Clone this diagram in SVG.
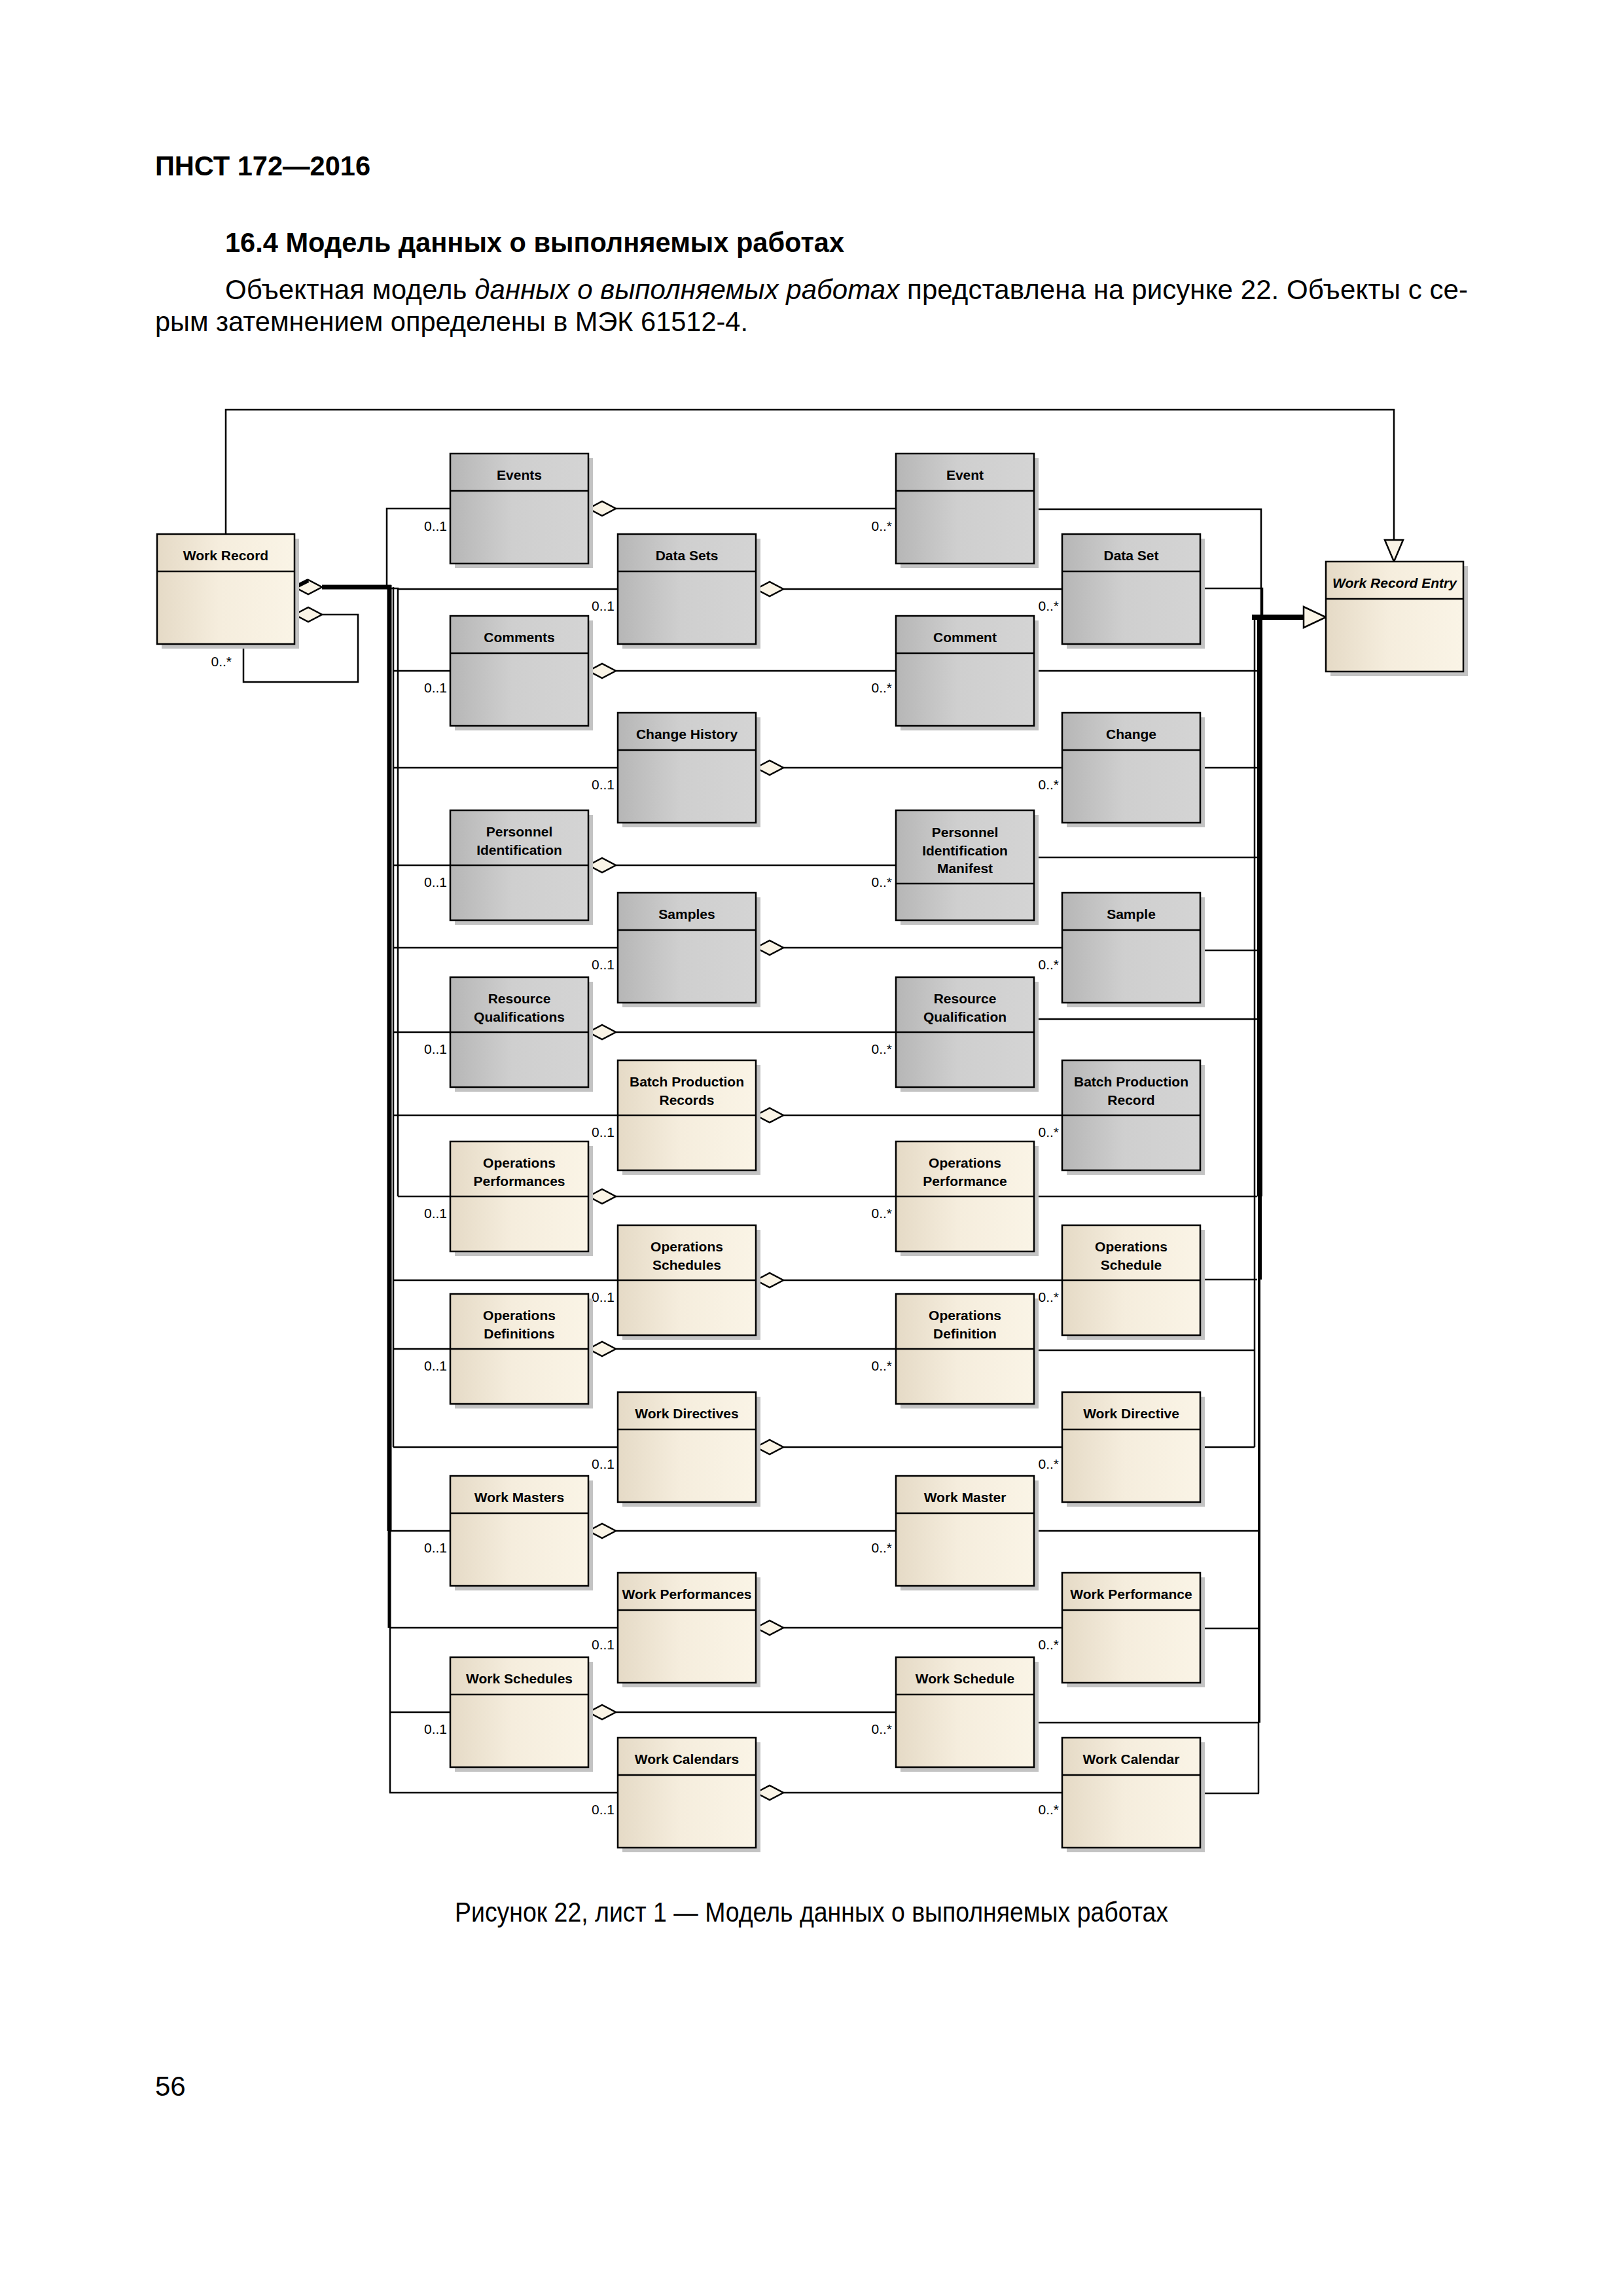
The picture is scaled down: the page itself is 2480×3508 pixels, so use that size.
<svg xmlns="http://www.w3.org/2000/svg" xmlns:xlink="http://www.w3.org/1999/xlink" width="2480" height="3508" viewBox="0 0 2480 3508">
<defs>
<linearGradient id="gGray" x1="0" y1="0" x2="1" y2="0">
<stop offset="0" stop-color="#b6b6b6"/><stop offset="0.45" stop-color="#cfcfcf"/><stop offset="1" stop-color="#d4d4d4"/>
</linearGradient>
<linearGradient id="gBeige" x1="0" y1="0" x2="1" y2="0">
<stop offset="0" stop-color="#e5dac6"/><stop offset="0.45" stop-color="#f5eddd"/><stop offset="1" stop-color="#faf4e6"/>
</linearGradient>
<path id="dia" d="M0,0 L21,-11 L42,0 L21,11 Z"/>
<style>
.sh{fill:#c3c3c3}
.g{fill:url(#gGray);stroke:#000;stroke-width:2.5}
.b{fill:url(#gBeige);stroke:#000;stroke-width:2.5}
.sep{stroke:#000;stroke-width:2.5}
.t{font-family:"Liberation Sans",Arial,sans-serif;font-size:21px;font-weight:bold;text-anchor:middle;fill:#000}
.ti{font-style:italic}
.m{font-family:"Liberation Sans",Arial,sans-serif;font-size:21px;text-anchor:end;fill:#000}
.c{fill:none;stroke:#000;stroke-width:2.5}
.dia{fill:#faf4e6;stroke:#000;stroke-width:2.5}
.body{font-family:"Liberation Sans",Arial,sans-serif;font-size:42px;fill:#000}
</style>
</defs>
<rect width="2480" height="3508" fill="#fff"/>

<g id="page-text">
<text class="body" x="237" y="268" font-weight="bold" textLength="329" lengthAdjust="spacingAndGlyphs">ПНСТ 172—2016</text>
<text class="body" x="344" y="385" font-weight="bold" textLength="946" lengthAdjust="spacingAndGlyphs">16.4 Модель данных о выполняемых работах</text>
<text class="body" x="344" y="457" textLength="1899" lengthAdjust="spacing">Объектная модель <tspan font-style="italic">данных о выполняемых работах</tspan> представлена на рисунке 22. Объекты с се-</text>
<text class="body" x="237" y="506" textLength="906" lengthAdjust="spacingAndGlyphs">рым затемнением определены в МЭК 61512-4.</text>
<text class="body" x="695" y="2936" font-size="38" textLength="1090" lengthAdjust="spacingAndGlyphs">Рисунок 22, лист 1 — Модель данных о выполняемых работах</text>
<text class="body" x="237" y="3202">56</text>
</g>

<g id="connectors">
<path class="c" d="M345,816 V626 H2130 V825"/>
<polygon class="dia" points="2116,825 2144,825 2130,858"/>
<use href="#dia" class="dia" x="450" y="939"/>
<path class="c" d="M492,939 H547 V1042 H372 V984"/>
<text class="m" x="354" y="1018">0..*</text>
<path class="c" d="M688,777 H591 V897"/>
<path fill="none" stroke="#000" stroke-width="7" d="M492,897 H598"/>
<path fill="none" stroke="#000" stroke-width="7" d="M595,894 V2339"/>
<path fill="none" stroke="#000" stroke-width="5" d="M595,2339 V2487"/>
<path class="c" d="M596,2487 V2739"/>
<path class="c" d="M601,897 V2211"/>
<path class="c" d="M598,899 H608 V1828"/>
<use href="#dia" class="dia" x="450" y="897"/>
<path fill="none" stroke="#000" stroke-width="6" d="M453,896 L471,887"/>
<path class="c" d="M1580,778 H1927 V940"/>
<path class="c" d="M1834,899 H1929 V940"/>
<path fill="none" stroke="#000" stroke-width="8" d="M1925,939 V1828"/>
<path fill="none" stroke="#000" stroke-width="6" d="M1925,1828 V1955"/>
<path fill="none" stroke="#000" stroke-width="4" d="M1924,1955 V2632"/>
<path class="c" d="M1923,2632 V2740"/>
<path class="c" d="M1917,940 V2211"/>
<path fill="none" stroke="#000" stroke-width="8" d="M1913,943 H1992"/>
<polygon class="dia" points="1992,927 1992,959 2026,943"/>

<path class="c" d="M944,900 H608"/>
<path class="c" d="M688,1025 H601"/>
<path class="c" d="M944,1173 H601"/>
<path class="c" d="M688,1322 H601"/>
<path class="c" d="M944,1448 H601"/>
<path class="c" d="M688,1577 H601"/>
<path class="c" d="M944,1704 H601"/>
<path class="c" d="M688,1828 H608"/>
<path class="c" d="M944,1956 H601"/>
<path class="c" d="M688,2061 H601"/>
<path class="c" d="M944,2211 H601"/>
<path class="c" d="M688,2339 H595"/>
<path class="c" d="M944,2487 H596"/>
<path class="c" d="M688,2616 H596"/>
<path class="c" d="M944,2739 H595"/>
<path class="c" d="M1580,1025 H1922"/>
<path class="c" d="M1834,1173 H1921"/>
<path class="c" d="M1580,1310 H1921"/>
<path class="c" d="M1834,1452 H1921"/>
<path class="c" d="M1580,1557 H1921"/>
<path class="c" d="M1580,1828 H1921"/>
<path class="c" d="M1834,1955 H1921"/>
<path class="c" d="M1580,2063 H1917"/>
<path class="c" d="M1834,2211 H1917"/>
<path class="c" d="M1580,2339 H1924"/>
<path class="c" d="M1834,2488 H1924"/>
<path class="c" d="M1580,2632 H1924"/>
<path class="c" d="M1834,2740 H1924"/>
<path class="c" d="M941,777 H1369"/><use href="#dia" class="dia" x="899" y="777"/>
<path class="c" d="M1197,900 H1623"/><use href="#dia" class="dia" x="1155" y="900"/>
<path class="c" d="M941,1025 H1369"/><use href="#dia" class="dia" x="899" y="1025"/>
<path class="c" d="M1197,1173 H1623"/><use href="#dia" class="dia" x="1155" y="1173"/>
<path class="c" d="M941,1322 H1369"/><use href="#dia" class="dia" x="899" y="1322"/>
<path class="c" d="M1197,1448 H1623"/><use href="#dia" class="dia" x="1155" y="1448"/>
<path class="c" d="M941,1577 H1369"/><use href="#dia" class="dia" x="899" y="1577"/>
<path class="c" d="M1197,1704 H1623"/><use href="#dia" class="dia" x="1155" y="1704"/>
<path class="c" d="M941,1828 H1369"/><use href="#dia" class="dia" x="899" y="1828"/>
<path class="c" d="M1197,1956 H1623"/><use href="#dia" class="dia" x="1155" y="1956"/>
<path class="c" d="M941,2061 H1369"/><use href="#dia" class="dia" x="899" y="2061"/>
<path class="c" d="M1197,2211 H1623"/><use href="#dia" class="dia" x="1155" y="2211"/>
<path class="c" d="M941,2339 H1369"/><use href="#dia" class="dia" x="899" y="2339"/>
<path class="c" d="M1197,2487 H1623"/><use href="#dia" class="dia" x="1155" y="2487"/>
<path class="c" d="M941,2616 H1369"/><use href="#dia" class="dia" x="899" y="2616"/>
<path class="c" d="M1197,2739 H1623"/><use href="#dia" class="dia" x="1155" y="2739"/>
<text class="m" x="683" y="811">0..1</text><text class="m" x="1363" y="811">0..*</text>
<text class="m" x="939" y="933">0..1</text><text class="m" x="1618" y="933">0..*</text>
<text class="m" x="683" y="1058">0..1</text><text class="m" x="1363" y="1058">0..*</text>
<text class="m" x="939" y="1206">0..1</text><text class="m" x="1618" y="1206">0..*</text>
<text class="m" x="683" y="1355">0..1</text><text class="m" x="1363" y="1355">0..*</text>
<text class="m" x="939" y="1481">0..1</text><text class="m" x="1618" y="1481">0..*</text>
<text class="m" x="683" y="1610">0..1</text><text class="m" x="1363" y="1610">0..*</text>
<text class="m" x="939" y="1737">0..1</text><text class="m" x="1618" y="1737">0..*</text>
<text class="m" x="683" y="1861">0..1</text><text class="m" x="1363" y="1861">0..*</text>
<text class="m" x="939" y="1989">0..1</text><text class="m" x="1618" y="1989">0..*</text>
<text class="m" x="683" y="2094">0..1</text><text class="m" x="1363" y="2094">0..*</text>
<text class="m" x="939" y="2244">0..1</text><text class="m" x="1618" y="2244">0..*</text>
<text class="m" x="683" y="2372">0..1</text><text class="m" x="1363" y="2372">0..*</text>
<text class="m" x="939" y="2520">0..1</text><text class="m" x="1618" y="2520">0..*</text>
<text class="m" x="683" y="2649">0..1</text><text class="m" x="1363" y="2649">0..*</text>
<text class="m" x="939" y="2772">0..1</text><text class="m" x="1618" y="2772">0..*</text>
</g>

<g id="work-record"><rect class="sh" x="247" y="823" width="210" height="168"/><rect class="b" x="240" y="816" width="210" height="168"/><line class="sep" x1="240" y1="873" x2="450" y2="873"/><text class="t" x="345" y="856">Work Record</text></g>
<g id="work-record-entry"><rect class="sh" x="2033" y="865" width="210" height="168"/><rect class="b" x="2026" y="858" width="210" height="168"/><line class="sep" x1="2026" y1="915" x2="2236" y2="915"/><text class="t ti" x="2131" y="898">Work Record Entry</text></g>

<g id="events"><rect class="sh" x="695" y="700" width="211" height="168"/><rect class="g" x="688" y="693" width="211" height="168"/><line class="sep" x1="688" y1="750" x2="899" y2="750"/><text class="t" x="793.5" y="733">Events</text></g>
<g id="event"><rect class="sh" x="1376" y="700" width="211" height="168"/><rect class="g" x="1369" y="693" width="211" height="168"/><line class="sep" x1="1369" y1="750" x2="1580" y2="750"/><text class="t" x="1474.5" y="733">Event</text></g>
<g id="data-sets"><rect class="sh" x="951" y="823" width="211" height="168"/><rect class="g" x="944" y="816" width="211" height="168"/><line class="sep" x1="944" y1="873" x2="1155" y2="873"/><text class="t" x="1049.5" y="856">Data Sets</text></g>
<g id="data-set"><rect class="sh" x="1630" y="823" width="211" height="168"/><rect class="g" x="1623" y="816" width="211" height="168"/><line class="sep" x1="1623" y1="873" x2="1834" y2="873"/><text class="t" x="1728.5" y="856">Data Set</text></g>
<g id="comments"><rect class="sh" x="695" y="948" width="211" height="168"/><rect class="g" x="688" y="941" width="211" height="168"/><line class="sep" x1="688" y1="998" x2="899" y2="998"/><text class="t" x="793.5" y="981">Comments</text></g>
<g id="comment"><rect class="sh" x="1376" y="948" width="211" height="168"/><rect class="g" x="1369" y="941" width="211" height="168"/><line class="sep" x1="1369" y1="998" x2="1580" y2="998"/><text class="t" x="1474.5" y="981">Comment</text></g>
<g id="change-history"><rect class="sh" x="951" y="1096" width="211" height="168"/><rect class="g" x="944" y="1089" width="211" height="168"/><line class="sep" x1="944" y1="1146" x2="1155" y2="1146"/><text class="t" x="1049.5" y="1129">Change History</text></g>
<g id="change"><rect class="sh" x="1630" y="1096" width="211" height="168"/><rect class="g" x="1623" y="1089" width="211" height="168"/><line class="sep" x1="1623" y1="1146" x2="1834" y2="1146"/><text class="t" x="1728.5" y="1129">Change</text></g>
<g id="personnel-identification"><rect class="sh" x="695" y="1245" width="211" height="168"/><rect class="g" x="688" y="1238" width="211" height="168"/><line class="sep" x1="688" y1="1322" x2="899" y2="1322"/><text class="t" x="793.5" y="1278">Personnel</text><text class="t" x="793.5" y="1306">Identification</text></g>
<g id="personnel-identification-manifest"><rect class="sh" x="1376" y="1245" width="211" height="168"/><rect class="g" x="1369" y="1238" width="211" height="168"/><line class="sep" x1="1369" y1="1350" x2="1580" y2="1350"/><text class="t" x="1474.5" y="1279">Personnel</text><text class="t" x="1474.5" y="1307">Identification</text><text class="t" x="1474.5" y="1334">Manifest</text></g>
<g id="samples"><rect class="sh" x="951" y="1371" width="211" height="168"/><rect class="g" x="944" y="1364" width="211" height="168"/><line class="sep" x1="944" y1="1421" x2="1155" y2="1421"/><text class="t" x="1049.5" y="1404">Samples</text></g>
<g id="sample"><rect class="sh" x="1630" y="1371" width="211" height="168"/><rect class="g" x="1623" y="1364" width="211" height="168"/><line class="sep" x1="1623" y1="1421" x2="1834" y2="1421"/><text class="t" x="1728.5" y="1404">Sample</text></g>
<g id="resource-qualifications"><rect class="sh" x="695" y="1500" width="211" height="168"/><rect class="g" x="688" y="1493" width="211" height="168"/><line class="sep" x1="688" y1="1577" x2="899" y2="1577"/><text class="t" x="793.5" y="1533">Resource</text><text class="t" x="793.5" y="1561">Qualifications</text></g>
<g id="resource-qualification"><rect class="sh" x="1376" y="1500" width="211" height="168"/><rect class="g" x="1369" y="1493" width="211" height="168"/><line class="sep" x1="1369" y1="1577" x2="1580" y2="1577"/><text class="t" x="1474.5" y="1533">Resource</text><text class="t" x="1474.5" y="1561">Qualification</text></g>
<g id="batch-production-records"><rect class="sh" x="951" y="1627" width="211" height="168"/><rect class="b" x="944" y="1620" width="211" height="168"/><line class="sep" x1="944" y1="1704" x2="1155" y2="1704"/><text class="t" x="1049.5" y="1660">Batch Production</text><text class="t" x="1049.5" y="1688">Records</text></g>
<g id="batch-production-record"><rect class="sh" x="1630" y="1627" width="211" height="168"/><rect class="g" x="1623" y="1620" width="211" height="168"/><line class="sep" x1="1623" y1="1704" x2="1834" y2="1704"/><text class="t" x="1728.5" y="1660">Batch Production</text><text class="t" x="1728.5" y="1688">Record</text></g>
<g id="operations-performances"><rect class="sh" x="695" y="1751" width="211" height="168"/><rect class="b" x="688" y="1744" width="211" height="168"/><line class="sep" x1="688" y1="1828" x2="899" y2="1828"/><text class="t" x="793.5" y="1784">Operations</text><text class="t" x="793.5" y="1812">Performances</text></g>
<g id="operations-performance"><rect class="sh" x="1376" y="1751" width="211" height="168"/><rect class="b" x="1369" y="1744" width="211" height="168"/><line class="sep" x1="1369" y1="1828" x2="1580" y2="1828"/><text class="t" x="1474.5" y="1784">Operations</text><text class="t" x="1474.5" y="1812">Performance</text></g>
<g id="operations-schedules"><rect class="sh" x="951" y="1879" width="211" height="168"/><rect class="b" x="944" y="1872" width="211" height="168"/><line class="sep" x1="944" y1="1956" x2="1155" y2="1956"/><text class="t" x="1049.5" y="1912">Operations</text><text class="t" x="1049.5" y="1940">Schedules</text></g>
<g id="operations-schedule"><rect class="sh" x="1630" y="1879" width="211" height="168"/><rect class="b" x="1623" y="1872" width="211" height="168"/><line class="sep" x1="1623" y1="1956" x2="1834" y2="1956"/><text class="t" x="1728.5" y="1912">Operations</text><text class="t" x="1728.5" y="1940">Schedule</text></g>
<g id="operations-definitions"><rect class="sh" x="695" y="1984" width="211" height="168"/><rect class="b" x="688" y="1977" width="211" height="168"/><line class="sep" x1="688" y1="2061" x2="899" y2="2061"/><text class="t" x="793.5" y="2017">Operations</text><text class="t" x="793.5" y="2045">Definitions</text></g>
<g id="operations-definition"><rect class="sh" x="1376" y="1984" width="211" height="168"/><rect class="b" x="1369" y="1977" width="211" height="168"/><line class="sep" x1="1369" y1="2061" x2="1580" y2="2061"/><text class="t" x="1474.5" y="2017">Operations</text><text class="t" x="1474.5" y="2045">Definition</text></g>
<g id="work-directives"><rect class="sh" x="951" y="2134" width="211" height="168"/><rect class="b" x="944" y="2127" width="211" height="168"/><line class="sep" x1="944" y1="2184" x2="1155" y2="2184"/><text class="t" x="1049.5" y="2167">Work Directives</text></g>
<g id="work-directive"><rect class="sh" x="1630" y="2134" width="211" height="168"/><rect class="b" x="1623" y="2127" width="211" height="168"/><line class="sep" x1="1623" y1="2184" x2="1834" y2="2184"/><text class="t" x="1728.5" y="2167">Work Directive</text></g>
<g id="work-masters"><rect class="sh" x="695" y="2262" width="211" height="168"/><rect class="b" x="688" y="2255" width="211" height="168"/><line class="sep" x1="688" y1="2312" x2="899" y2="2312"/><text class="t" x="793.5" y="2295">Work Masters</text></g>
<g id="work-master"><rect class="sh" x="1376" y="2262" width="211" height="168"/><rect class="b" x="1369" y="2255" width="211" height="168"/><line class="sep" x1="1369" y1="2312" x2="1580" y2="2312"/><text class="t" x="1474.5" y="2295">Work Master</text></g>
<g id="work-performances"><rect class="sh" x="951" y="2410" width="211" height="168"/><rect class="b" x="944" y="2403" width="211" height="168"/><line class="sep" x1="944" y1="2460" x2="1155" y2="2460"/><text class="t" x="1049.5" y="2443">Work Performances</text></g>
<g id="work-performance"><rect class="sh" x="1630" y="2410" width="211" height="168"/><rect class="b" x="1623" y="2403" width="211" height="168"/><line class="sep" x1="1623" y1="2460" x2="1834" y2="2460"/><text class="t" x="1728.5" y="2443">Work Performance</text></g>
<g id="work-schedules"><rect class="sh" x="695" y="2539" width="211" height="168"/><rect class="b" x="688" y="2532" width="211" height="168"/><line class="sep" x1="688" y1="2589" x2="899" y2="2589"/><text class="t" x="793.5" y="2572">Work Schedules</text></g>
<g id="work-schedule"><rect class="sh" x="1376" y="2539" width="211" height="168"/><rect class="b" x="1369" y="2532" width="211" height="168"/><line class="sep" x1="1369" y1="2589" x2="1580" y2="2589"/><text class="t" x="1474.5" y="2572">Work Schedule</text></g>
<g id="work-calendars"><rect class="sh" x="951" y="2662" width="211" height="168"/><rect class="b" x="944" y="2655" width="211" height="168"/><line class="sep" x1="944" y1="2712" x2="1155" y2="2712"/><text class="t" x="1049.5" y="2695">Work Calendars</text></g>
<g id="work-calendar"><rect class="sh" x="1630" y="2662" width="211" height="168"/><rect class="b" x="1623" y="2655" width="211" height="168"/><line class="sep" x1="1623" y1="2712" x2="1834" y2="2712"/><text class="t" x="1728.5" y="2695">Work Calendar</text></g>
</svg>
